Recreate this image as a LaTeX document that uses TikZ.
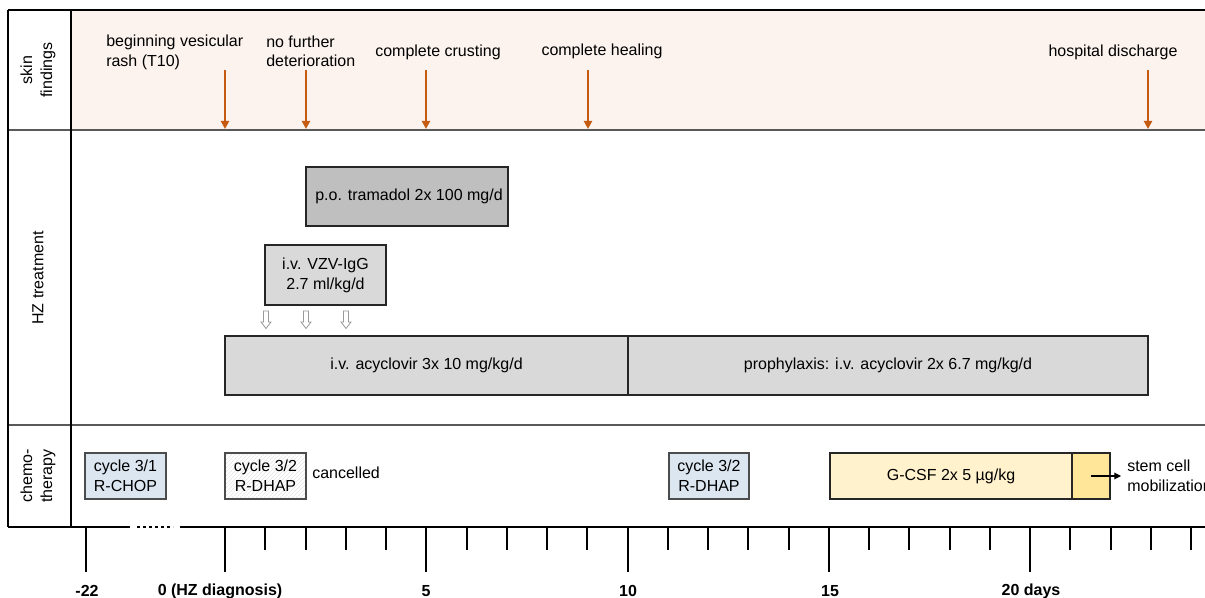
\documentclass[tikz,border=0pt]{standalone}
\usepackage{fontspec}
\setmainfont{Liberation Sans}
\usetikzlibrary{arrows.meta,patterns}
\definecolor{skinbg}{HTML}{FCF3EE}
\definecolor{orangearr}{HTML}{C55A11}
\definecolor{sepgray}{HTML}{595959}
\definecolor{darkbox}{HTML}{BFBFBF}
\definecolor{lightbox}{HTML}{D9D9D9}
\definecolor{chemoblue}{HTML}{DCE6F1}
\definecolor{gcsf}{HTML}{FFF2CC}
\definecolor{gcsfend}{HTML}{FFE699}
\definecolor{hatch}{HTML}{E4E4E4}
\tikzset{
  txt/.style={font=\fontsize{12}{15}\selectfont, inner sep=0pt, align=center},
  axlbl/.style={font=\fontsize{12}{15}\selectfont\bfseries, inner sep=0pt},
  boxnode/.style={draw=black!85, line width=1.1pt, inner sep=0pt, outer sep=0pt, anchor=north west,
    font=\fontsize{12}{15}\selectfont, align=center},
  skinarrow/.style={draw=orangearr, line width=1.6pt, -{Triangle[width=6pt,length=6pt]}},
  minortick/.style={line width=1.5pt},
  majortick/.style={line width=1.5pt},
  hollowarr/.style={draw=black!40, fill=white, line width=0.6pt},
}
\begin{document}
\begin{tikzpicture}[x=0.75pt,y=-0.75pt]
\useasboundingbox (0,0) rectangle (1205,598);
\clip (0,0) rectangle (1205,598);
% skin findings background
\fill[skinbg] (71,10) rectangle (1205,130);
% frame
\draw[line width=1.5pt] (8,10) -- (1205,10);
\draw[sepgray, line width=1.5pt] (8,130) -- (1205,130);
\draw[sepgray, line width=1.5pt] (8,425) -- (1205,425);
\draw[line width=1pt] (8,10) -- (8,527);
\draw[line width=1.5pt] (71,10) -- (71,527);
% axis line
\draw[line width=1.5pt] (8,527) -- (130,527);
\draw[line width=2pt, dash pattern=on 2.5pt off 2pt] (137,527) -- (173,527);
\draw[line width=1.5pt] (180,527) -- (1205,527);
% row labels
\node[txt, rotate=90] (lskin) at (38,70) {skin\\findings};
\node[txt, rotate=90] (lhz) at (38,278) {HZ treatment};
\node[txt, rotate=90] (lchemo) at (38,476) {chemo-\\therapy};
% skin findings texts
\node[txt, align=left, anchor=west] (t1) at (106,52) {beginning vesicular\\rash (T10)};
\node[txt, align=left, anchor=west, font=\fontsize{12}{14}\selectfont] (t2) at (266,51) {no further\\deterioration};
\node[txt] (t3) at (438,52) {complete crusting};
\node[txt] (t4) at (602,51) {complete healing};
\node[txt] (t5) at (1113,52) {hospital discharge};
% skin arrows
\foreach \n/\x in {1/225,2/306,3/426,4/588,5/1148}{
  \coordinate (as\n) at (\x,70);
  \coordinate (ae\n) at (\x,129);
  \draw[skinarrow] (as\n) -- (ae\n);
}
% HZ treatment boxes
\node[boxnode, fill=darkbox, minimum width=151.5pt, minimum height=44.25pt] (tram) at (306,167) {\hspace{3pt}p.o. tramadol 2x 100 mg/d};
\node[boxnode, fill=lightbox, minimum width=90.75pt, minimum height=45pt] (vzv) at (265,245) {i.v. VZV-IgG\\2.7 ml/kg/d};
\node[boxnode, fill=lightbox, minimum width=302.25pt, minimum height=44.25pt] (acy) at (225,336) {i.v. acyclovir 3x 10 mg/kg/d};
\node[boxnode, fill=lightbox, minimum width=390pt, minimum height=44.25pt] (proph) at (628,336) {prophylaxis: i.v. acyclovir 2x 6.7 mg/kg/d};
% hollow arrows
\foreach \x in {266,306,346}{
  \draw[hollowarr] (\x-2.5,311) -- (\x+2.5,311) -- (\x+2.5,322) -- (\x+5,322) -- (\x,328.5) -- (\x-5,322) -- (\x-2.5,322) -- cycle;
}
% chemotherapy boxes
\node[boxnode, draw=black!70, line width=0.8pt, fill=chemoblue, minimum width=60.75pt, minimum height=34.5pt] (chop) at (85,453) {cycle 3/1\\R-CHOP};
\node[boxnode, draw=black!70, line width=0.8pt, pattern=north east lines, pattern color=hatch, minimum width=60.75pt, minimum height=34.5pt] (dhapc) at (225,453) {};
\node[txt] at (dhapc.center) {cycle 3/2\\R-DHAP};
\node[txt, anchor=west] (canc) at (312,473) {cancelled};
\node[boxnode, draw=black!70, line width=0.8pt, fill=chemoblue, minimum width=60pt, minimum height=34.5pt] (dhap) at (669,453) {cycle 3/2\\R-DHAP};
\node[boxnode, line width=1pt, fill=gcsf, minimum width=181.5pt, minimum height=34.5pt] (gcsf) at (830,453) {G-CSF 2x 5 µg/kg};
\node[boxnode, line width=1pt, fill=gcsfend, minimum width=28.5pt, minimum height=34.5pt] (gcsfe) at (1072,453) {};
\coordinate (mobarr) at (1121,476);
\draw[line width=0.8pt, -{Triangle[width=5pt,length=5pt]}] (gcsfe.center) -- (mobarr);
\node[txt, align=left, anchor=west] (mob) at (1127,476) {stem cell\\mobilization};
% ticks
\foreach \d in {1,2,3,4,6,7,8,9,11,12,13,14,16,17,18,19,21,22,23,24}{
  \draw[minortick] (225+40.25*\d,527) -- (225+40.25*\d,550);
}
\foreach \d in {0,5,10,15,20}{
  \draw[majortick] (225+40.25*\d,527) -- (225+40.25*\d,572);
}
\draw[majortick] (86,527) -- (86,572);
% axis labels
\node[axlbl] (l22) at (87,591) {-22};
\node[axlbl] (l0) at (220,591) {0 (HZ diagnosis)};
\node[axlbl] (l5) at (426,591) {5};
\node[axlbl] (l10) at (628,591) {10};
\node[axlbl] (l15) at (830,591) {15};
\node[axlbl] (l20) at (1031,591) {20 days};
\end{tikzpicture}
\end{document}
